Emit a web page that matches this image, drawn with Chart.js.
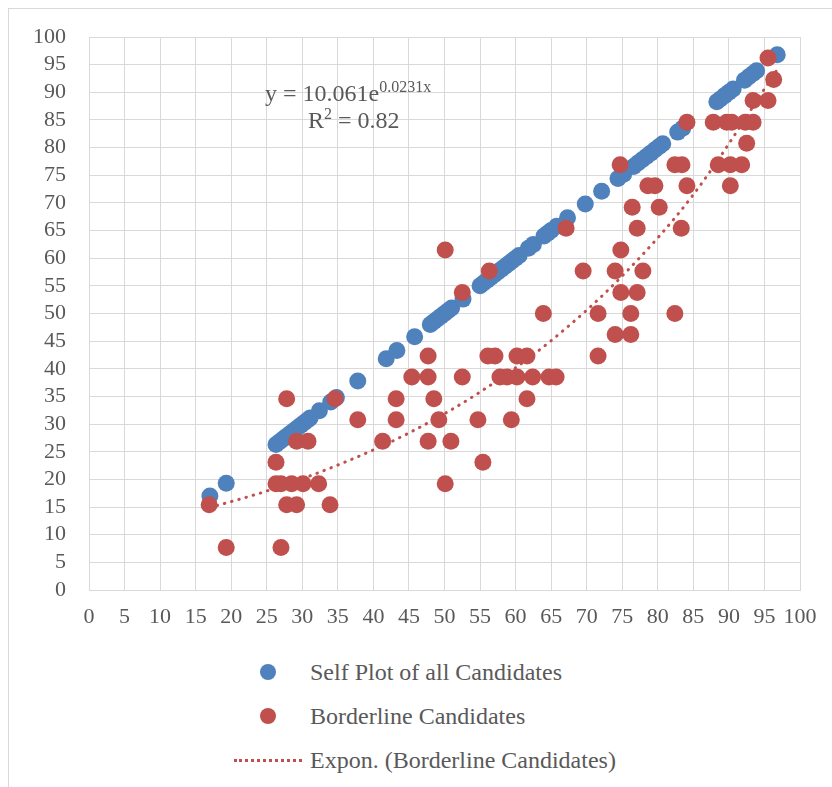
<!DOCTYPE html>
<html>
<head>
<meta charset="utf-8">
<script src="https://cdn.jsdelivr.net/npm/chart.js@4/dist/chart.umd.min.js"></script>
<style>
  body { margin: 0; background: #fff; font-family: "Liberation Serif", serif; color: #595959; }
  #wrap { position: relative; width: 832px; height: 787px; overflow: hidden; }
  #frame { position: absolute; left: 8px; top: 8px; width: 840px; height: 800px; border: 1px solid #d9d9d9; }
  #box { position: absolute; left: 0; top: 0; width: 832px; height: 640px; }
  .eq { position: absolute; font-size: 24px; white-space: nowrap; }
  .eq sup { font-size: 16px; }
  .leg { position: absolute; left: 310px; font-size: 24px; line-height: 26px; }
  .dot { position: absolute; width: 16px; height: 16px; border-radius: 50%; }
  .dash { position: absolute; left: 234px; top: 759px; width: 68px; border-top: 3px dotted #c0504d; }
</style>
</head>
<body>
<div id="wrap">
  <div id="frame"></div>
  <div id="box"><canvas id="chart"></canvas></div>
  <div class="eq" style="left:265px; top:78px;">y = 10.061e<sup>0.0231x</sup></div>
  <div class="eq" style="left:308px; top:105px;">R<sup>2</sup> = 0.82</div>
  <div class="dot" style="left:260px; top:664px; background:#4f81bd;"></div>
  <div class="leg" style="top:659px;">Self Plot of all Candidates</div>
  <div class="dot" style="left:260px; top:708px; background:#c0504d;"></div>
  <div class="leg" style="top:703px;">Borderline Candidates</div>
  <div class="dash"></div>
  <div class="leg" style="top:747px;">Expon. (Borderline Candidates)</div>
</div>
<script>
// self plot: every candidate against itself
const selfX = [17, 19.3, 26.3, 26.8, 27.3, 27.8, 28.3, 28.8, 29.3, 29.8, 30.3, 30.8, 31.1, 32.4, 34, 34.8,
  37.8, 41.8, 43.3, 45.8, 48, 48.5, 49, 49.5, 50, 50.5, 51, 52.6, 55, 55.5, 56, 56.5, 57, 57.5, 58, 58.5,
  59, 59.5, 60, 60.5, 61.8, 62.5, 64, 64.5, 65, 65.8, 67.3, 69.8, 72.1, 74.4, 75.2, 76.6, 77.2, 77.8,
  78.4, 79, 79.6, 80.2, 80.7, 82.8, 83.5, 88.3, 88.8, 89.4, 90, 90.6, 92.2, 92.8, 93.4, 93.9, 96.8];
const selfY = selfX.slice();

const borderX = [16.9, 19.3, 26.3, 26.3, 27, 27, 27.8, 27.8, 28.5, 29.2, 29.2, 30.1, 30.8, 32.3, 33.9,
  34.6, 37.8, 41.3, 43.2, 43.2, 45.4, 47.7, 47.7, 47.7, 48.5, 49.2, 50.1, 50.1, 50.9, 52.5, 52.5, 54.7,
  55.4, 56.1, 56.3, 57.1, 57.8, 58.8, 59.4, 60.2, 60.2, 61.6, 61.6, 62.4, 63.9, 64.7, 65.7, 67.1, 69.5,
  71.6, 71.6, 74, 74, 74.7, 74.8, 74.8, 76.2, 76.2, 76.4, 77.1, 77.1, 77.9, 78.6, 79.6, 80.2, 82.4, 82.4,
  83.3, 83.4, 84.1, 84.1, 87.8, 88.5, 89.7, 90.2, 90.2, 90.4, 91.8, 92.3, 92.5, 93.4, 93.4, 95.5, 95.5, 96.3];
const borderY = [15.4, 7.7, 23.1, 19.2, 19.2, 7.7, 34.6, 15.4, 19.2, 26.9, 15.4, 19.2, 26.9, 19.2, 15.4,
  34.6, 30.8, 26.9, 34.6, 30.8, 38.5, 42.3, 38.5, 26.9, 34.6, 30.8, 61.5, 19.2, 26.9, 53.8, 38.5, 30.8,
  23.1, 42.3, 57.7, 42.3, 38.5, 38.5, 30.8, 42.3, 38.5, 42.3, 34.6, 38.5, 50, 38.5, 38.5, 65.4, 57.7,
  50, 42.3, 57.7, 46.2, 76.9, 61.5, 53.8, 50, 46.2, 69.2, 65.4, 53.8, 57.7, 73.1, 73.1, 69.2, 76.9, 50,
  65.4, 76.9, 84.6, 73.1, 84.6, 76.9, 84.6, 76.9, 73.1, 84.6, 76.9, 84.6, 80.8, 84.6, 88.5, 96.2, 88.5, 92.3];

// exponential trendline
const trendX = [17, 25, 35, 45, 55, 65, 75, 85, 97];
const trendY = [14.9, 17.9, 22.6, 28.4, 35.8, 45.1, 56.8, 71.5, 94.5];

const ticks5 = { stepSize: 5, autoSkip: false, maxRotation: 0, color: "#595959", font: { family: "Liberation Serif", size: 22 } };
const grid = { color: "#d9d9d9", lineWidth: 1, drawTicks: false };

new Chart(document.getElementById("chart"), {
  type: "scatter",
  data: {
    datasets: [
      {
        label: "Self Plot of all Candidates",
        data: selfX.map((x, i) => ({ x: x, y: selfY[i] })),
        backgroundColor: "#4f81bd",
        borderWidth: 0,
        pointRadius: 8.5,
        order: 3
      },
      {
        label: "Borderline Candidates",
        data: borderX.map((x, i) => ({ x: x, y: borderY[i] })),
        backgroundColor: "#c0504d",
        borderWidth: 0,
        pointRadius: 8.5,
        order: 2
      },
      {
        label: "Expon. (Borderline Candidates)",
        type: "line",
        data: trendX.map((x, i) => ({ x: x, y: trendY[i] })),
        borderColor: "#c0504d",
        borderWidth: 3,
        borderDash: [0.5, 7],
        borderCapStyle: "round",
        cubicInterpolationMode: "monotone",
        pointRadius: 0,
        fill: false,
        order: 1
      }
    ]
  },
  options: {
    responsive: true,
    maintainAspectRatio: false,
    animation: false,
    layout: { padding: { left: 10, right: 32, top: 37, bottom: 10 } },
    plugins: { legend: { display: false }, tooltip: { enabled: false } },
    scales: {
      x: {
        type: "linear", min: 0, max: 100,
        ticks: Object.assign({}, ticks5, { padding: 14 }),
        grid: grid,
        border: { color: "#d9d9d9" },
        afterFit: s => { s.height = 40; }
      },
      y: {
        min: 0, max: 100,
        ticks: Object.assign({}, ticks5, { padding: 23 }),
        grid: grid,
        border: { color: "#d9d9d9" },
        afterFit: s => { s.width = 79; }
      }
    }
  }
});
</script>
</body>
</html>
